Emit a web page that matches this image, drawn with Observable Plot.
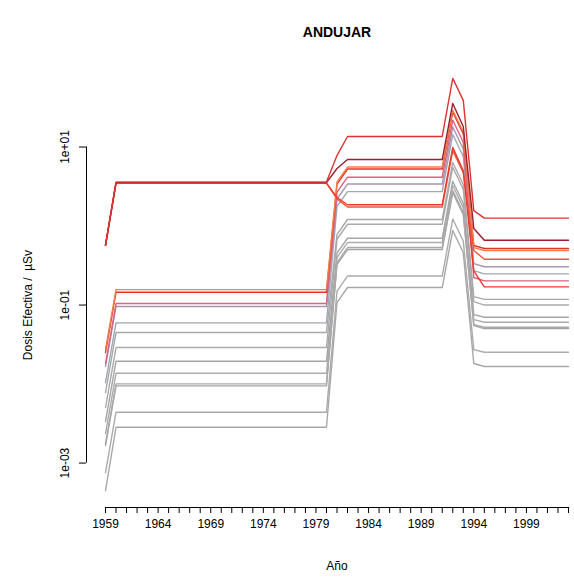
<!DOCTYPE html>
<html>
<head>
<meta charset="utf-8">
<script src="https://cdn.jsdelivr.net/npm/d3@7"></script>
<script src="https://cdn.jsdelivr.net/npm/@observablehq/plot@0.6"></script>
<style>
  html, body { margin: 0; padding: 0; background: #fff; }
  #chart svg { display: block; }
</style>
</head>
<body>
<div id="chart"></div>
<script>
// Years at which the annual dose series change level (values are constant in between)
const years = [1959, 1960, 1980, 1981, 1982, 1991, 1992, 1993, 1994, 1995, 2003];

// Effective dose (µSv) per series, one value per entry of `years`
const s01 = [0.57, 3.6, 3.6, 7.8, 13.6, 13.6, 74, 39, 1.57, 1.26, 1.26];
const s02 = [0.57, 3.55, 3.55, 5.35, 6.95, 6.95, 35.6, 18.2, 0.93, 0.66, 0.66];
const s03 = [0.57, 3.5, 3.5, 2.3, 1.86, 1.86, 9.9, 5.0, 0.27, 0.17, 0.17];
const s04 = [0.57, 3.5, 3.5, 2.2, 1.74, 1.74, 9.0, 4.75, 0.49, 0.38, 0.38];
const s05 = [0.0273, 0.157, 0.157, 3.61, 5.58, 5.58, 29.4, 15.5, 0.534, 0.49, 0.49];
const s06 = [0.0251, 0.145, 0.145, 3.40, 5.27, 5.27, 27.7, 14.6, 0.567, 0.519, 0.519];
const s07 = [0.0182, 0.1045, 0.1045, 2.68, 4.15, 4.15, 21.8, 11.5, 0.223, 0.2025, 0.2025];
const s08 = [0.0167, 0.0957, 0.0957, 2.20, 3.40, 3.40, 17.9, 9.44, 0.335, 0.305, 0.305];
const s09 = [0.01045, 0.0595, 0.0595, 1.77, 2.73, 2.73, 14.4, 7.58, 0.273, 0.248, 0.248];
const s10 = [0.0078, 0.0449, 0.0449, 0.78, 1.21, 1.21, 6.37, 3.35, 0.128, 0.118, 0.118];
const s11 = [0.00504, 0.029, 0.029, 0.681, 1.054, 1.054, 5.55, 2.92, 0.1107, 0.1, 0.1];
const s12 = [0.00335, 0.01945, 0.01945, 0.453, 0.701, 0.701, 3.69, 1.94, 0.0758, 0.0701, 0.0701];
const s13 = [0.00236, 0.0137, 0.0137, 0.399, 0.618, 0.618, 3.26, 1.71, 0.0655, 0.0606, 0.0606];
const s14 = [0.001766, 0.01007, 0.01007, 0.345, 0.534, 0.534, 2.81, 1.48, 0.0566, 0.0524, 0.0524];
const s15 = [0.001667, 0.00949, 0.00949, 0.326, 0.504, 0.504, 2.65, 1.40, 0.055, 0.0504, 0.0504];
const s16 = [0.000758, 0.0044, 0.0044, 0.150, 0.233, 0.233, 1.226, 0.646, 0.0273, 0.0253, 0.0253];
const s17 = [0.000449, 0.00284, 0.00284, 0.1076, 0.1667, 0.1667, 0.877, 0.462, 0.0182, 0.01667, 0.01667];

const series = [s01, s02, s03, s04, s05, s06, s07, s08, s09, s10, s11, s12, s13, s14, s15, s16, s17];
const colors = [
  "#dc3430", "#9a1e2e", "#ea3a2c", "#f0553a", "#f08048", "#e8302a", "#d8647e", "#a894ae",
  "#9ea8b8", "#a8a8a8", "#aaaaaa", "#a6a6a6", "#acacac", "#a9a9a9", "#a4a4a4", "#ababab", "#a7a7a7"
];

// Axis ticks and labels
const xTickYears = d3.range(1959, 2004);
const xLabelYears = [1959, 1964, 1969, 1974, 1979, 1984, 1989, 1994, 1999];
const yTicks = [10, 0.1, 0.001];
const yTickLabels = ["1e+01", "1e-01", "1e-03"];

const title = "ANDUJAR";
const xTitle = "Año";
const yTitle = "Dosis Efectiva /  µSv";

// Tidy rows; grey series first so the red ones are drawn on top
const rows = [];
for (let k = series.length - 1; k >= 0; --k) {
  series[k].forEach((v, i) => rows.push({year: years[i], dose: v, serie: k, color: colors[k]}));
}

const yDomain = [2.74e-4, 124.5];

const chart = Plot.plot({
  width: 574,
  height: 585,
  marginTop: 60,
  marginBottom: 78,
  marginLeft: 105,
  marginRight: 6,
  style: {fontFamily: "'Liberation Sans', Arial, Helvetica, sans-serif", fontSize: "12px", color: "#000", background: "#fff"},
  x: {domain: [1959, 2003], label: null},
  y: {type: "log", domain: yDomain, label: null},
  color: {type: "identity"},
  marks: [
    // curves
    Plot.line(rows, {x: "year", y: "dose", z: "serie", stroke: "color", strokeWidth: 1.4, strokeLinejoin: "round"}),
    // x axis: line, yearly ticks, labels every five years
    Plot.ruleY([yDomain[0]], {x1: 1959, x2: 2003, stroke: "#000", strokeWidth: 1}),
    Plot.axisX({ticks: xTickYears, tickSize: 6, tickPadding: 6, label: null, tickFormat: d => xLabelYears.includes(d) ? String(d) : "", fontSize: 12}),
    // y axis
    Plot.ruleX([1959], {y1: yTicks[2], y2: yTicks[0], dx: -19, stroke: "#000"}),
    Plot.axisY({ticks: yTicks, tickSize: 7, dx: -19, label: null, tickFormat: () => ""}),
    Plot.text(yTicks, {x: 1959, y: d => d, text: (d, i) => yTickLabels[i], rotate: -90, dx: -40, fontSize: 12}),
    // titles
    Plot.text([title], {frameAnchor: "top", lineAnchor: "middle", dy: -28, fontWeight: "bold", fontSize: 14}),
    Plot.text([xTitle], {frameAnchor: "bottom", lineAnchor: "middle", dy: 59, fontSize: 12}),
    Plot.text([yTitle], {x: 1959, y: 0.1, rotate: -90, dx: -77, fontSize: 12})
  ]
});

document.getElementById("chart").appendChild(chart);
</script>
</body>
</html>
